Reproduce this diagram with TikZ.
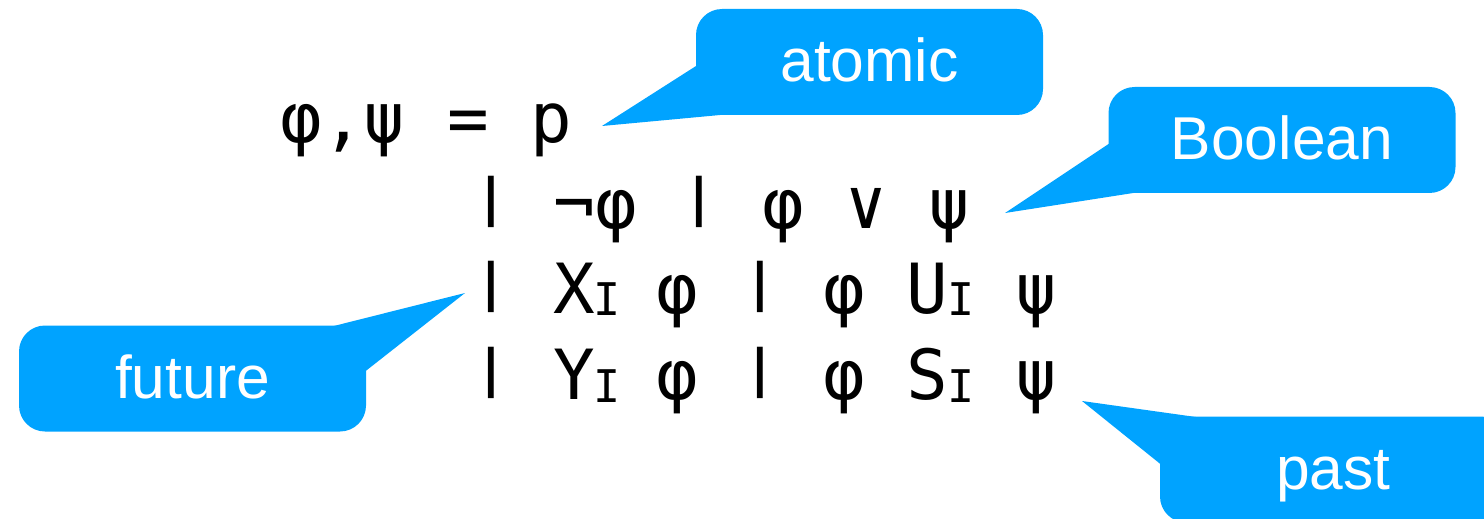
\documentclass[tikz,border=0pt]{standalone}
\usepackage{fontspec}
\usepackage{graphicx}
\setmainfont{Liberation Sans}
\newfontfamily\gram{DejaVu Sans Mono}
\definecolor{callblue}{RGB}{0,163,255}
\newcommand\gbar{\raisebox{\depth}{\resizebox*{0.602em}{0.743em}{|}}}
\newcommand\gsub[2]{\makebox[#1][c]{\hspace{#2}\raisebox{-1.5pt}{\fontsize{22.5pt}{22.5pt}\selectfont I}}}
\begin{document}
\begin{tikzpicture}[x=0.5pt,y=-0.5pt,
  gramline/.style={inner sep=0pt, anchor=base west, font=\gram\fontsize{34.6pt}{34.6pt}\selectfont},
  callbox/.style={fill=callblue, rounded corners=13pt, minimum width=173.5pt, minimum height=53pt,
    inner sep=0pt, text=white, font=\fontsize{30.25pt}{30.25pt}\selectfont, text height=20pt, text depth=0pt},
  tail/.style={fill=callblue}]
\useasboundingbox (0,0) rectangle (1484,519);
% grammar
\node[gramline] (l1) at (280,143) {φ,ψ = p};
\node[gramline] (l2) at (470,228) {\gbar{} ¬φ \gbar{} φ ∨ ψ};
\node[gramline] (l3) at (470,313) {\gbar{} X\gsub{9.8pt}{2.2pt} φ \gbar{} φ U\gsub{12.7pt}{0pt} ψ};
\node[gramline] (l4) at (470,399) {\gbar{} Y\gsub{9.8pt}{2.2pt} φ \gbar{} φ S\gsub{12.7pt}{0pt} ψ};
% callouts
\node[callbox] (atomic) at (869.5,62) {atomic};
\node[callbox] (boolean) at (1282,140) {Boolean};
\node[callbox] (future) at (192.5,378.5) {future};
\node[callbox] (past) at (1333.5,469.5) {past};
% tail tips
\coordinate (atip) at (602,126);
\coordinate (btip) at (1005,213);
\coordinate (ftip) at (465,293);
\coordinate (ptip) at (1082,401);
% tails
\fill[tail] ([xshift=1pt,yshift=-1.5pt]atomic.west) -- (atip) -- ([xshift=15.5pt,yshift=0.5pt]atomic.south west) -- cycle;
\fill[tail] ([xshift=1pt,yshift=-1.5pt]boolean.west) -- (btip) -- ([xshift=14.5pt,yshift=0.5pt]boolean.south west) -- cycle;
\fill[tail] ([xshift=-16.5pt,yshift=-0.5pt]future.north east) -- (ftip) -- ([xshift=-1pt,yshift=3.25pt]future.east) -- cycle;
\fill[tail] ([xshift=18.5pt,yshift=-0.5pt]past.north west) -- (ptip) -- ([xshift=1pt,yshift=2.25pt]past.west) -- cycle;
\end{tikzpicture}
\end{document}
